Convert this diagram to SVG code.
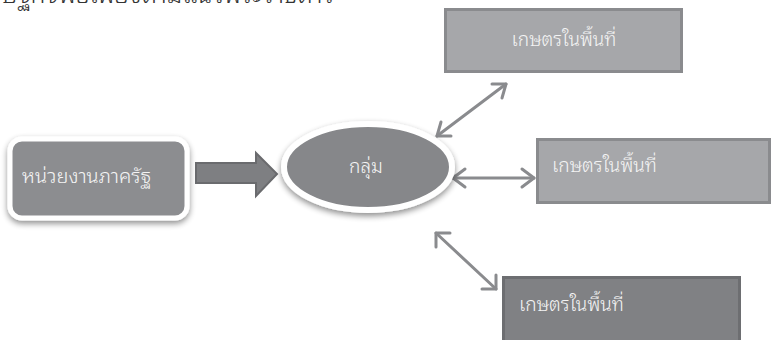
<svg xmlns="http://www.w3.org/2000/svg" width="773" height="340" viewBox="0 0 773 340">
<style>
.t{font-family:"Noto Sans Thai Looped","Loma","Garuda","Noto Sans Thai","Noto Sans","DejaVu Sans",sans-serif;fill:#f4f4f4;font-size:19px;font-weight:300}
.c{stroke:#8a8b8e;stroke-width:3;fill:none;stroke-linecap:round}
.h{stroke:#8a8b8e;stroke-width:3;fill:none;stroke-linecap:round;stroke-linejoin:round}
</style>
<defs>
<filter id="sh" x="-20%" y="-20%" width="140%" height="150%">
<feGaussianBlur in="SourceAlpha" stdDeviation="3"/>
<feOffset dx="0" dy="3" result="b"/>
<feComponentTransfer><feFuncA type="linear" slope="0.45"/></feComponentTransfer>
<feMerge><feMergeNode/><feMergeNode in="SourceGraphic"/></feMerge>
</filter>
</defs>
<rect width="773" height="340" fill="#ffffff"/>
<text x="-34" y="3" font-family="Noto Sans Thai Looped, Loma, Garuda, Noto Sans Thai, Noto Sans, DejaVu Sans, sans-serif" font-size="25" font-weight="300" fill="#333333">เศรษฐกิจพอเพียงตามแนวพระราชดำริ</text>
<g id="connectors">
<polygon points="196,163 256,163 256,153 277,174 256,196 256,183 196,183" fill="#7e7f82" stroke="#6a6b6e" stroke-width="2"/>
<line class="c" x1="437" y1="136" x2="506" y2="84"/>
<polyline class="h" points="441,122 437,136 451,136"/>
<polyline class="h" points="492,84 506,84 502,98"/>
<line class="c" x1="453" y1="178" x2="534" y2="178"/>
<polyline class="h" points="465,169 453,178 465,187"/>
<polyline class="h" points="522,169 534,178 522,187"/>
<line class="c" x1="436" y1="233" x2="496" y2="289"/>
<polyline class="h" points="436,247 436,233 450,233"/>
<polyline class="h" points="482,289 496,289 496,275"/>
</g>
<g id="node-state">
<rect x="10" y="139" width="177" height="79" rx="12" fill="#8c8d90" stroke="#ffffff" stroke-width="5" filter="url(#sh)"/>
<text class="t" x="22" y="183" style="font-size:20px">หน่วยงานภาครัฐ</text>
</g>
<g id="node-group">
<ellipse cx="368" cy="167" rx="84" ry="43" fill="#86878a" stroke="#ffffff" stroke-width="6" filter="url(#sh)"/>
<text class="t" x="366" y="173" text-anchor="middle">กลุ่ม</text>
</g>
<g id="node-farmer1">
<rect x="445.5" y="9.5" width="236" height="62" fill="#a6a7aa" stroke="#8a8b8e" stroke-width="3"/>
<text class="t" x="564" y="46" text-anchor="middle">เกษตรในพื้นที่</text>
</g>
<g id="node-farmer2">
<rect x="537.5" y="139.5" width="232" height="63" fill="#a6a7aa" stroke="#8a8b8e" stroke-width="3"/>
<text class="t" x="552" y="172">เกษตรในพื้นที่</text>
</g>
<g id="node-farmer3">
<rect x="503.5" y="277.5" width="236" height="64" fill="#808184" stroke="#6d6e71" stroke-width="3"/>
<text class="t" x="519" y="311">เกษตรในพื้นที่</text>
</g>
</svg>
